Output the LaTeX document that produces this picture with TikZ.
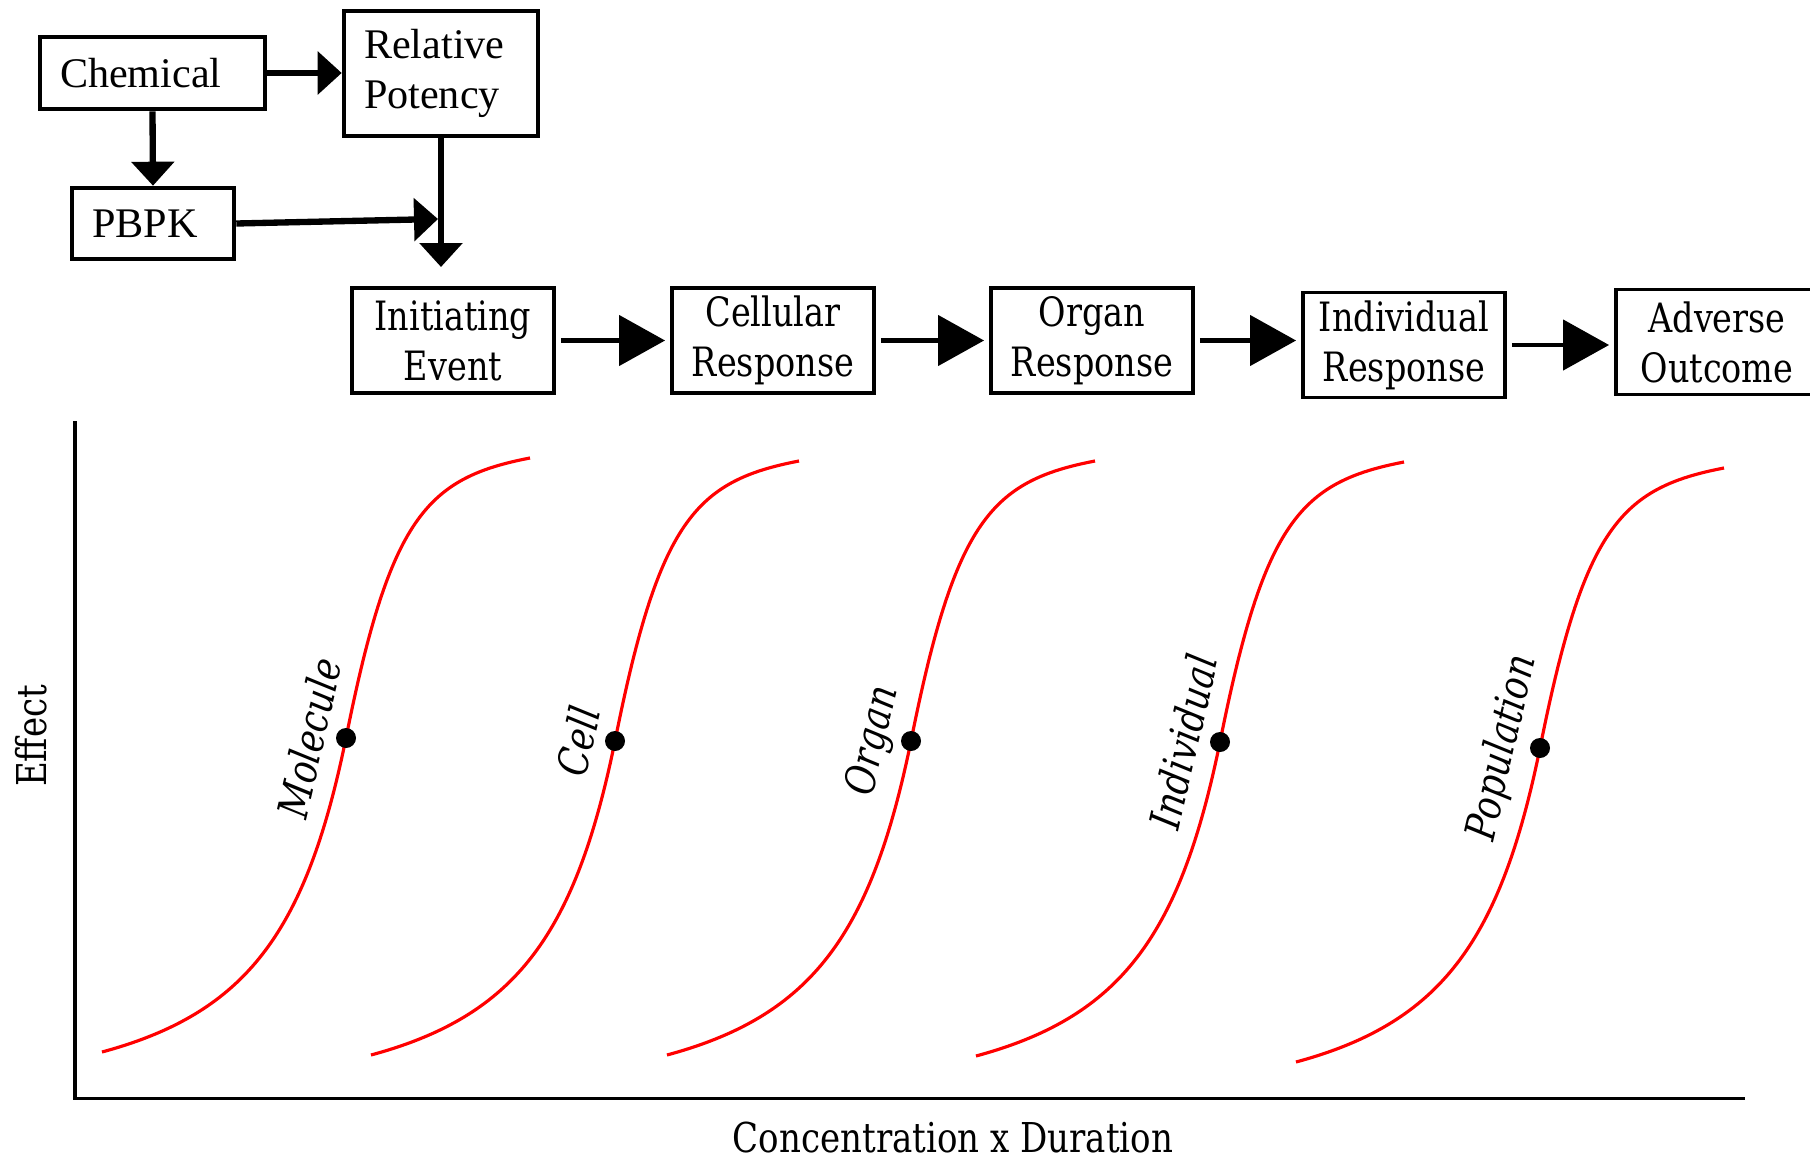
\documentclass[tikz,border=0pt]{standalone}
\usepackage{fontspec}
\setmainfont{Liberation Serif}
\newfontfamily\aopfont{DejaVu Serif Condensed}[FakeStretch=0.92]
\usetikzlibrary{arrows.meta, positioning}

\begin{document}
\begin{tikzpicture}[
	topbox/.style={draw, line width=1.3pt, inner xsep=0.2cm, inner ysep=2pt, align=left, font=\fontsize{12}{14.4}\selectfont},
	aopbox/.style={draw, line width=1.1pt, minimum width=2.02cm, minimum height=1.05cm, inner sep=1pt, align=center, font=\aopfont\fontsize{11.5}{14.2}\selectfont},
	toparrow/.style={line width=1.8pt, -{Triangle[length=0.24cm, width=0.42cm]}},
	aoparrow/.style={line width=1.3pt, -{Triangle[length=0.46cm, width=0.5cm]}, shorten <=0.05cm, shorten >=0.05cm},
	sigmoid/.style={red, line width=0.9pt},
	level/.style={font=\aopfont\itshape\fontsize{12}{14}\selectfont, rotate=77},
	axislabel/.style={font=\aopfont\fontsize{11.7}{14}\selectfont}
]
	\useasboundingbox (0,0) rectangle (18.1,11.62);

	\node [topbox, text width=1.85cm, minimum height=0.72cm] (chem) at (1.525,10.89) {Chemical};
	\node [topbox, text width=1.54cm, minimum height=1.25cm] (relpot) at (4.41,10.885) {Relative\\Potency};
	\node [topbox, text width=1.22cm, minimum height=0.71cm] (pbpk) at (1.53,9.385) {PBPK};
	\coordinate (drop) at (4.41,8.95);
	\coordinate (join) at (4.38,9.43);

	\draw [toparrow] (chem.east) -- (relpot.west |- chem.east);
	\draw [toparrow] (chem.south) -- (pbpk.north);
	\draw [toparrow] (relpot.south) -- (drop);
	\draw [toparrow] (pbpk.east) -- (join);

	\node [aopbox] (ie) at (4.53,8.215) {Initiating\\Event};
	\node [aopbox] (cell) at (7.73,8.215) {Cellular\\Response};
	\node [aopbox] (organ) at (10.92,8.215) {Organ\\Response};
	\node [aopbox] (indiv) at (14.04,8.17) {Individual\\Response};
	\node [aopbox] (adverse) at (17.17,8.20) {Adverse\\Outcome};

	\draw [aoparrow] (ie.east) -- (ie.east -| cell.west);
	\draw [aoparrow] (cell.east) -- (cell.east -| organ.west);
	\draw [aoparrow] (organ.east) -- (organ.east -| indiv.west);
	\draw [aoparrow] (indiv.east) -- (indiv.east -| adverse.west);

	% dose-response curves
	\foreach \x/\y/\name/\lab in {3.46/4.24/mol/Molecule, 6.15/4.21/cel/Cell, 9.11/4.21/org/Organ, 12.20/4.20/ind/Individual, 15.40/4.14/pop/Population} {
		\draw [sigmoid, shift={(\x,\y)}] (-2.44,-3.14) .. controls (-1.0,-2.75) and (-0.40,-1.95) .. (0,0) .. controls (0.44,2.2) and (0.8,2.6) .. (1.84,2.80);
		\fill (\x,\y) circle (0.1);
		\node [level] (\name) at (\x-0.37,\y) {\lab};
	}

	\coordinate (origin) at (0.75,0.635);
	\draw [line width=0.9pt] (0.75,7.41) -- (origin) -- (17.45,0.635);
	\node [axislabel, rotate=90] (effect) at (0.31,4.26) {Effect};
	\node [axislabel] (cxd) at (9.53,0.24) {Concentration x Duration};
\end{tikzpicture}
\end{document}
